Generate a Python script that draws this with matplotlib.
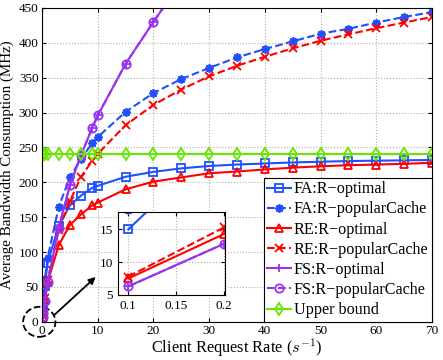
import numpy as np
import matplotlib
matplotlib.use('Agg')
import matplotlib.pyplot as plt
from matplotlib.patches import Ellipse

plt.rcParams['font.family'] = ['Liberation Serif', 'DejaVu Serif']
plt.rcParams['mathtext.fontset'] = 'cm'

# client request rate (1/s)
rate = [0.1, 0.2, 0.5, 1, 3, 5, 7, 9, 10, 15, 20, 25, 30, 35, 40, 45, 50, 55, 60, 65, 70]
fa_opt = [15, 29, 52, 85, 138, 167, 181, 192, 195, 208, 215, 220, 223.4, 225.5, 227, 228.5, 229.5, 230.5, 231, 231.5, 232]
fa_pop = [18, 35, 62, 92, 165, 207, 234, 256, 265, 301, 328, 348, 364, 379, 391, 402, 413, 420, 429, 437, 444]
re_opt = [7.5, 14.3, 33, 57, 110, 139, 154, 167, 171, 190, 201, 207, 213, 215.5, 218.5, 221, 223, 224.5, 225.5, 226.5, 228]
re_pop = [7.8, 15.3, 34, 60, 132, 173, 208, 231, 241, 282, 311, 333, 352, 367, 380, 392, 403, 412, 421, 429, 437]
fs_opt = [6.3, 12.8, 30, 57, 135, 196, 239, 278, 296, 370, 430, 488]
fs_pop = [6.3, 12.8, 30, 57, 135, 196, 239, 278, 296, 370, 430, 488]
upper = [241] * len(rate)

BLUE = '#1f4fff'
RED = '#ff0000'
PURP = '#9933ee'
GREEN = '#66e600'

series = [
    ('FA:R\u2212optimal', fa_opt, BLUE, '-', 's'),
    ('FA:R\u2212popularCache', fa_pop, BLUE, '--', (8, 2, 0)),
    ('RE:R\u2212optimal', re_opt, RED, '-', '^'),
    ('RE:R\u2212popularCache', re_pop, RED, '--', 'x'),
    ('FS:R\u2212optimal', fs_opt, PURP, '-', '+'),
    ('FS:R\u2212popularCache', fs_pop, PURP, '--', 'o'),
    ('Upper bound', upper, GREEN, '-', 'd'),
]

def draw(ax):
    for lab, y, c, ls, m in series:
        ax.plot(rate[:len(y)], y, color=c, ls=ls, marker=m, lw=1.5, ms=6,
                mew=1.3, mfc='none', label=lab)

fig = plt.figure(figsize=(4.43, 3.6), dpi=100)
ax = fig.add_axes([0.095, 0.106, 0.88, 0.872])
draw(ax)
ax.set_xlim(0, 70)
ax.set_ylim(0, 450)
ax.set_xticks(range(0, 71, 10))
ax.set_yticks(range(0, 451, 50))
ax.grid(True, ls=':', color='#b0b0b0', lw=0.8)
ax.tick_params(direction='in', top=True, right=True, labelsize=9.5, length=3, pad=2.5)
ax.set_xlabel('Client Request Rate ($s^{-1}$)', fontsize=11.8)
ax.xaxis.set_label_coords(0.5, -0.046)
ax.set_ylabel('Average Bandwidth Consumption (MHz)', fontsize=10.8)
ax.yaxis.set_label_coords(-0.072, 0.5)
leg = ax.legend(loc='lower right', fontsize=11.6, borderaxespad=0.0, handlelength=1.5,
                handletextpad=0.15, labelspacing=0.26, borderpad=0.22, fancybox=False,
                framealpha=1, edgecolor='black')
leg.get_frame().set_linewidth(0.8)

# dashed ellipse around origin + arrow to the inset
ax.add_patch(Ellipse((-0.5, 0), 5.8, 43, fill=False, ls='--', lw=1.3, color='black', clip_on=False))
ax.annotate('', xy=(10, 67), xytext=(1.8, 7),
            arrowprops=dict(arrowstyle='-|>', color='black', lw=1.3, mutation_scale=10))

ins = fig.add_axes([0.266, 0.181, 0.242, 0.231])
draw(ins)
ins.set_xlim(0.089, 0.201)
ins.set_ylim(5, 17.7)
ins.set_xticks([0.1, 0.15, 0.2])
ins.set_xticklabels(['0.1', '0.15', '0.2'])
ins.set_yticks([5, 10, 15])
ins.grid(True, ls=':', color='#b0b0b0', lw=0.8)
ins.tick_params(direction='in', top=True, right=True, labelsize=9.5, length=3)

fig.savefig('out.png', dpi=100)
